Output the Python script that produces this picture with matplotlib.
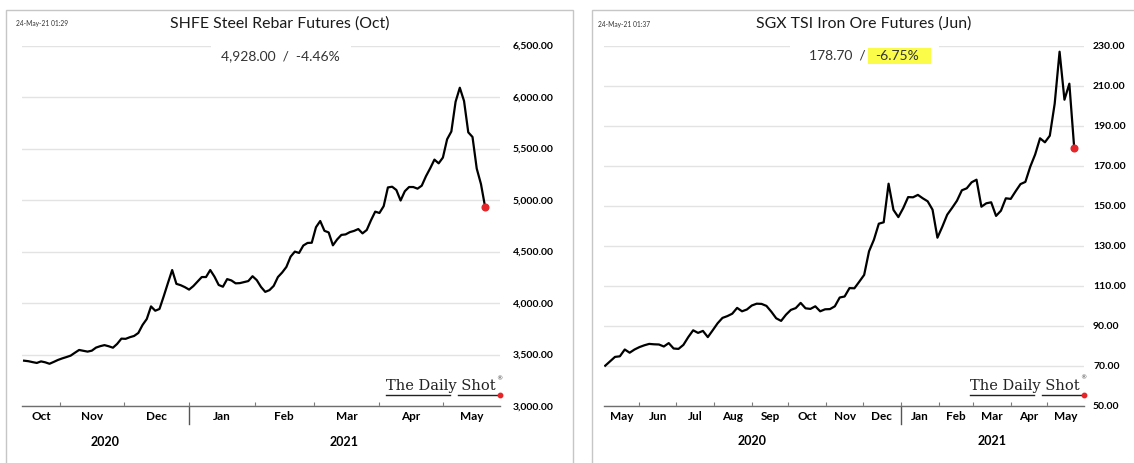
import numpy as np
import pandas as pd
import matplotlib
matplotlib.use("Agg")
import matplotlib.pyplot as plt
import matplotlib.dates as mdates
import matplotlib.transforms as mtransforms
from matplotlib.patches import Rectangle
from matplotlib.lines import Line2D
from matplotlib.ticker import FuncFormatter

plt.rcParams["font.family"] = ["Lato", "DejaVu Sans"]

# ── Data ──────────────────────────────────────────────────────────────────────

# SHFE steel rebar, one value every 2 calendar days from 15-Oct-2020
rebar_start = "2020-10-15"
rebar_values = [
    3440, 3435, 3426, 3418, 3433, 3424, 3410, 3428, 3447, 3462,
    3475, 3489, 3517, 3544, 3536, 3528, 3537, 3567, 3581, 3591,
    3580, 3566, 3603, 3654, 3652, 3668, 3680, 3709, 3787, 3845,
    3967, 3925, 3942, 4065, 4194, 4320, 4186, 4173, 4154, 4130,
    4164, 4208, 4252, 4252, 4320, 4256, 4175, 4158, 4232, 4219,
    4191, 4193, 4203, 4213, 4260, 4222, 4156, 4108, 4125, 4166,
    4252, 4296, 4350, 4450, 4499, 4486, 4558, 4583, 4585, 4736,
    4796, 4701, 4685, 4560, 4617, 4661, 4666, 4688, 4700, 4718,
    4676, 4709, 4803, 4887, 4874, 4940, 5122, 5129, 5097, 4995,
    5085, 5126, 5126, 5110, 5139, 5231, 5308, 5392, 5356, 5412,
    5590, 5665, 5954, 6090, 5961, 5657, 5612, 5305, 5155, 4928,
]
rebar_xlim = ("2020-10-14", "2021-05-28")
rebar_yticks = [3000, 3500, 4000, 4500, 5000, 5500, 6000, 6500]
rebar_last = "4,928.00"
rebar_change = "-4.46%"

# SGX TSI iron ore, one value every 4 calendar days from 04-May-2020
ore_start = "2020-05-04"
ore_values = [
    70.0, 72.2, 74.4, 74.7, 78.1, 76.5, 78.1, 79.3, 80.2, 80.9,
    80.7, 80.6, 79.6, 81.3, 78.6, 78.4, 80.4, 84.3, 87.7, 86.4,
    87.4, 84.3, 87.7, 91.2, 93.9, 94.8, 96.0, 98.9, 97.2, 98.1,
    100.1, 101.0, 100.9, 99.9, 97.0, 93.7, 92.4, 95.5, 97.9, 98.8,
    101.4, 98.7, 98.4, 99.7, 97.2, 98.2, 98.3, 99.7, 104.1, 104.6,
    108.8, 108.7, 112.0, 115.4, 127.2, 133.0, 141.0, 141.7, 161.0, 147.9,
    144.3, 148.8, 154.3, 154.2, 155.4, 153.7, 152.2, 148.0, 134.0, 139.5,
    145.5, 148.9, 152.5, 157.7, 158.7, 161.7, 163.0, 149.5, 151.2, 151.7,
    144.9, 147.5, 153.7, 153.4, 157.2, 160.8, 161.9, 169.5, 175.6, 183.7,
    181.7, 185.0, 201.0, 227.0, 203.0, 211.0, 178.7,
]
ore_xlim = ("2020-05-03", "2021-05-31")
ore_yticks = [50, 70, 90, 110, 130, 150, 170, 190, 210, 230]
ore_last = "178.70"
ore_change = "-6.75%"

W, H = 1134, 463
TXT = "#333333"


# ── Helpers ───────────────────────────────────────────────────────────────────

def month_axis(fig, ax, xlim):
    """Month ticks, centred month names, year labels and the Jan divider."""
    lo, hi = pd.Timestamp(xlim[0]), pd.Timestamp(xlim[1])
    ax.xaxis.set_major_locator(mdates.MonthLocator())
    ax.tick_params(axis="x", direction="in", length=3, width=0.8,
                   color="#7a7a7a", labelbottom=False)

    trans = mtransforms.blended_transform_factory(ax.transData, ax.transAxes)
    m_trans = mtransforms.offset_copy(trans, fig=fig, y=-10.7, units="dots")
    y_trans = mtransforms.offset_copy(trans, fig=fig, y=-35.5, units="dots")

    for m in pd.date_range(lo.to_period("M").to_timestamp(), hi, freq="MS"):
        a = max(m, lo)
        b = min(m + pd.offsets.MonthBegin(1), hi)
        ax.text(a + (b - a) / 2, 0, m.strftime("%b"), transform=m_trans,
                ha="center", va="center", fontsize=8.5, fontweight="bold")

    for yr in range(lo.year, hi.year + 1):
        a = max(pd.Timestamp(f"{yr}-01-01"), lo)
        b = min(pd.Timestamp(f"{yr + 1}-01-01"), hi)
        ax.text(a + (b - a) / 2, 0, str(yr), transform=y_trans,
                ha="center", va="center", fontsize=9, fontweight="bold")
        if yr > lo.year:
            ax.axvline(pd.Timestamp(f"{yr}-01-01"), ymin=-0.05, ymax=0,
                       color="#555555", lw=1, clip_on=False)


def logo(fig, ax, right):
    t = ax.text(right, 0.044, "The Daily Shot", transform=ax.transAxes,
                ha="right", va="baseline", family="DejaVu Serif",
                fontsize=10.5, color="#222222")
    ax.text(right + 0.001, 0.072, "®", transform=ax.transAxes, ha="left",
            va="baseline", family="DejaVu Sans", fontsize=4.5, color="#444444")
    fig.canvas.draw()
    bb = t.get_window_extent().transformed(ax.transAxes.inverted())
    w = bb.x1 - bb.x0
    for a, b in [(bb.x0, bb.x0 + 0.59 * w), (bb.x0 + 0.665 * w, 1.0)]:
        ax.add_line(Line2D([a, b], [0.031, 0.031], transform=ax.transAxes,
                           color="#222222", lw=1, clip_on=False))
    ax.plot([1.0], [0.031], "o", color="#e4262b", ms=3.2,
            transform=ax.transAxes, clip_on=False)


def pad_box(ax, bb, left, right, top, bottom, color, z):
    """Rectangle (in pixels around a display bbox) turned into axes coords."""
    inv = ax.transAxes.inverted()
    (x0, y0), (x1, y1) = inv.transform([(bb.x0 - left, bb.y0 - bottom),
                                        (bb.x1 + right, bb.y1 + top)])
    ax.add_patch(Rectangle((x0, y0), x1 - x0, y1 - y0, transform=ax.transAxes,
                           fc=color, ec="none", zorder=z, clip_on=False))


def draw_panel(fig, ax, dates, values, xlim, yticks, fmt, ypad,
               title, stamp):
    ax.plot(dates, values, color="black", lw=1.6, solid_joinstyle="round",
            zorder=3)
    ax.plot(dates[-1], values[-1], "o", color="#e4262b", ms=4.8, zorder=4)

    ax.set_xlim(pd.Timestamp(xlim[0]), pd.Timestamp(xlim[1]))
    ax.set_ylim(yticks[0], yticks[-1])
    ax.set_yticks(yticks)
    ax.yaxis.set_major_formatter(FuncFormatter(lambda v, _: fmt.format(v)))
    ax.yaxis.tick_right()
    ax.tick_params(axis="y", length=0, pad=ypad, labelsize=7.5)
    for lab in ax.get_yticklabels():
        lab.set_fontweight("bold")
    ax.grid(axis="y", color="#e3e3e3", lw=1)
    ax.set_axisbelow(True)

    for s in ["top", "left", "right"]:
        ax.spines[s].set_visible(False)
    ax.spines["bottom"].set_color("#6e6e6e")
    ax.spines["bottom"].set_linewidth(1)
    ax.spines["bottom"].set_zorder(5)

    month_axis(fig, ax, xlim)

    ax.text(0.54, 1.062, title, transform=ax.transAxes, ha="center",
            va="center", fontsize=11.4, color="#1a1a1a")
    ax.text(-0.013, 1.06, stamp, transform=ax.transAxes, ha="left",
            va="center", fontsize=4.8, color=TXT)


# ── Figure ────────────────────────────────────────────────────────────────────

fig = plt.figure(figsize=(W / 100, H / 100), dpi=100)
fig.add_artist(Rectangle((6 / W, -0.05), 567 / W, 1.05 - 10 / H,
                         transform=fig.transFigure, fill=False,
                         ec="#c6c6c6", lw=1))
fig.add_artist(Rectangle((592 / W, -0.05), 560 / W, 1.05 - 10 / H,
                         transform=fig.transFigure, fill=False,
                         ec="#c6c6c6", lw=1))

ax1 = fig.add_axes([22 / W, 57 / H, 478 / W, 360.5 / H])
ax2 = fig.add_axes([604 / W, 57.3 / H, 480 / W, 360 / H])

rebar_dates = pd.date_range(rebar_start, periods=len(rebar_values), freq="2D")
ore_dates = pd.date_range(ore_start, periods=len(ore_values), freq="4D")

draw_panel(fig, ax1, rebar_dates, rebar_values, rebar_xlim, rebar_yticks,
           "{:,.2f}", 9, "SHFE Steel Rebar Futures (Oct)", "24-May-21 01:29")
draw_panel(fig, ax2, ore_dates, ore_values, ore_xlim, ore_yticks,
           "{:.2f}", 6.5, "SGX TSI Iron Ore Futures (Jun)", "24-May-21 01:37")

# headline values, on a white box that breaks the top gridline
h1 = ax1.text(0.54, 0.971, f"{rebar_last}  /  {rebar_change}",
              transform=ax1.transAxes, ha="center", va="center",
              fontsize=10, color=TXT, zorder=7)
h2a = ax2.text(0.546, 0.972, f"{ore_last}  /", transform=ax2.transAxes,
               ha="right", va="center", fontsize=10, color=TXT, zorder=7)
h2b = ax2.text(0.5645, 0.972, ore_change, transform=ax2.transAxes,
               ha="left", va="center", fontsize=10, color=TXT, zorder=7)

fig.canvas.draw()
b1 = h1.get_window_extent()
pad_box(ax1, b1, 10, 12, 8, 8, "white", 6)
b2a, b2b = h2a.get_window_extent(), h2b.get_window_extent()
union = mtransforms.Bbox.union([b2a, b2b])
pad_box(ax2, union, 19, 20, 8, 8, "white", 6)
mid = (b2b.y0 + b2b.y1) / 2
yb = mtransforms.Bbox([[b2b.x0, mid - 1], [b2b.x1, mid + 1]])
pad_box(ax2, yb, 7, 12, 7, 7, "#fbfb4a", 6.5)

logo(fig, ax1, 0.99)
logo(fig, ax2, 0.99)

fig.savefig("out.png", dpi=100)
